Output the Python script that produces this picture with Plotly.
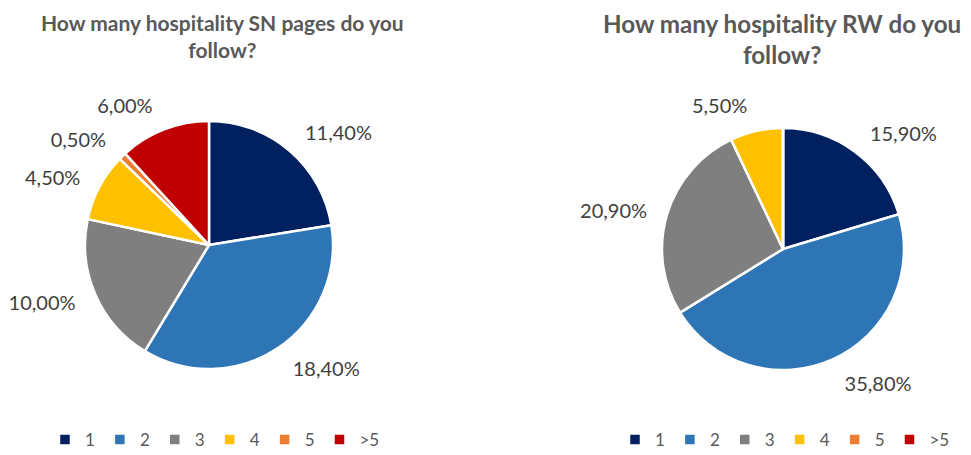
import plotly.graph_objects as go

# Page body has an 8px default margin, so the figure is drawn 8px in from the window edge.
OFF = 8
W, H = 971 - OFF, 455 - OFF

categories = ["1", "2", "3", "4", "5", ">5"]
sn_values = [11.40, 18.40, 10.00, 4.50, 0.50, 6.00]
rw_values = [15.90, 35.80, 20.90, 5.50, 0.0, 0.0]
colors = ["#002060", "#2E75B6", "#7F7F7F", "#FFC000", "#ED7D31", "#C00000"]
titles = ["How many hospitality SN pages do you<br>follow?",
          "How many hospitality RW do you<br>follow?"]


def fmt(v):
    return (f"{v:.2f}".replace(".", ",") + "%") if v > 0 else ""


def dom(cx, cy, r):
    cx, cy = cx - OFF, cy - OFF
    return dict(x=[(cx - r) / W, (cx + r) / W],
                y=[(H - cy - r) / H, (H - cy + r) / H])


fig = go.Figure()

charts = [
    dict(vals=sn_values, cx=209, cy=245, r=124, legend="legend", group="sn"),
    dict(vals=rw_values, cx=783, cy=249, r=121, legend="legend2", group="rw"),
]

for c in charts:
    fig.add_trace(go.Pie(
        labels=categories, values=c["vals"], sort=False, direction="clockwise",
        rotation=0, domain=dom(c["cx"], c["cy"], c["r"]),
        marker=dict(colors=colors, line=dict(color="white", width=2.5)),
        textinfo="none", hoverinfo="label+value", legend=c["legend"],
        legendgroup=c["group"], showlegend=True,
    ))
    # transparent companion pie that carries the data labels just outside the slices
    fig.add_trace(go.Pie(
        labels=categories, values=c["vals"], sort=False, direction="clockwise",
        rotation=0, domain=dom(c["cx"], c["cy"], c["r"] * 1.12),
        marker=dict(colors=["rgba(0,0,0,0)"] * 6, line=dict(width=0)),
        text=[fmt(v) for v in c["vals"]], textinfo="text",
        textposition="outside", legend=c["legend"], legendgroup=c["group"],
        textfont=dict(family="Lato", size=20, color="#404040"),
        hoverinfo="skip", showlegend=False,
    ))

legend_style = dict(orientation="h", xanchor="center", yanchor="middle",
                    y=1 - (440 - OFF) / H, traceorder="normal",
                    font=dict(family="Lato", size=17, color="#595959"),
                    bgcolor="rgba(0,0,0,0)")

fig.update_layout(
    width=W, height=H, margin=dict(l=0, r=0, t=0, b=0, autoexpand=False),
    paper_bgcolor="white", plot_bgcolor="white",
    legend=dict(x=(215 - OFF) / W, **legend_style),
    legend2=dict(x=(785 - OFF) / W, **legend_style),
    annotations=[
        dict(text=f"<b>{titles[0]}</b>", x=(222 - OFF) / W, y=1 - (36.5 - OFF) / H,
             xref="paper", yref="paper", showarrow=False, xanchor="center", yanchor="middle",
             font=dict(family="Lato", size=21, color="#595959")),
        dict(text=f"<b>{titles[1]}</b>", x=(782 - OFF) / W, y=1 - (39 - OFF) / H,
             xref="paper", yref="paper", showarrow=False, xanchor="center", yanchor="middle",
             font=dict(family="Lato", size=24.2, color="#595959")),
    ],
)

fig.write_html("out.html")
